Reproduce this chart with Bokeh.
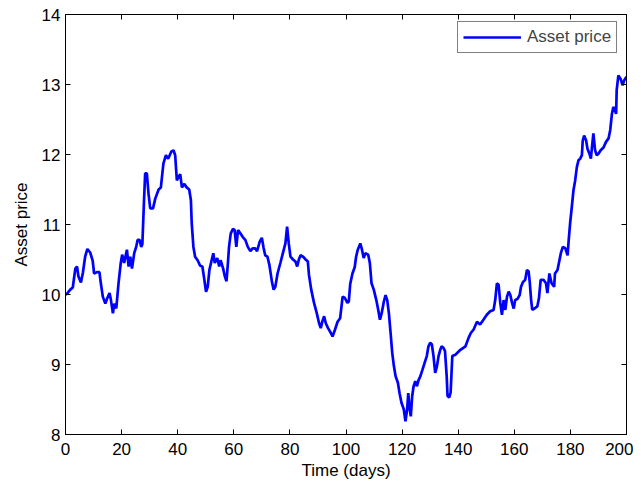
from bokeh.plotting import figure
from bokeh.models import LinearAxis, Range1d, Legend, LegendItem, FixedTicker
from bokeh.embed import file_html
from bokeh.resources import INLINE

days = [0, 0.5, 1.7, 2.6, 3.5, 4.1, 4.6, 5.5, 6.2, 7.0, 7.8, 8.8, 9.7, 10.2, 11.2, 12.1, 12.6, 13.3,
        14.2, 14.8, 15.7, 16.2, 16.9, 17.4, 18.1, 18.9, 19.7, 20.2, 20.9, 21.9, 22.5, 23.1, 23.7, 24.5,
        25.2, 25.7, 26.4, 27.0, 27.4, 28.0, 28.4, 29.0, 29.6, 30.2, 31.2, 32.0, 33.2, 34.0, 34.9, 35.8,
        36.6, 37.7, 38.5, 39.1, 39.7, 40.3, 40.9, 41.5, 42.4, 43.2, 44.1, 44.7, 45.0, 45.6, 46.2, 47.1,
        48.0, 48.8, 49.5, 50.1, 50.7, 51.3, 52.1, 52.7, 53.2, 54.1, 54.8, 55.3, 56.2, 56.8, 57.4, 57.9,
        58.3, 58.9, 59.7, 60.3, 60.9, 61.5, 62.4, 63.2, 64.1, 65.0, 65.9, 66.7, 67.6, 68.3, 69.2, 70.0,
        70.6, 71.2, 72.0, 72.7, 73.6, 74.2, 74.8, 75.6, 76.6, 77.5, 78.4, 79.0, 79.6, 80.2, 81.1, 82.0,
        82.6, 83.2, 83.8, 84.7, 85.6, 86.4, 86.8, 87.6, 88.6, 89.6, 90.4, 91.0, 91.6, 92.2, 92.8, 93.6,
        94.6, 95.2, 96.0, 97.0, 97.9, 98.8, 99.6, 100.5, 101.0, 101.5, 102.3, 103.1, 103.6, 104.2, 105.1,
        105.7, 106.3, 106.9, 107.9, 108.5, 109.1, 109.9, 110.8, 111.5, 112.1, 112.7, 113.5, 114.1, 114.7,
        115.3, 115.9, 116.5, 117.1, 117.7, 118.5, 119.1, 119.8, 120.6, 121.2, 121.8, 122.2, 122.6, 123.1,
        123.6, 124.1, 124.7, 125.3, 125.9, 126.5, 127.3, 128.0, 128.8, 129.4, 130.0, 130.6, 131.2, 131.8,
        132.4, 133.0, 133.6, 134.1, 134.7, 135.3, 135.9, 136.2, 136.8, 137.3, 137.9, 139.0, 140.8, 142.6,
        143.7, 144.5, 145.5, 146.7, 147.8, 149.0, 150.2, 151.4, 152.6, 153.2, 153.8, 154.4, 155.0, 155.6,
        156.2, 156.8, 157.4, 158.0, 158.6, 159.2, 159.8, 160.3, 161.2, 161.9, 162.4, 163.1, 163.9, 164.5,
        165.1, 165.5, 166.0, 166.4, 167.2, 168.2, 168.8, 169.4, 170.4, 171.3, 171.8, 172.5, 173.3, 174.2,
        174.5, 175.4, 176.1, 176.6, 177.3, 178.2, 179.0, 179.4, 179.9, 180.5, 181.1, 181.7, 182.3, 182.9,
        183.5, 184.1, 184.4, 184.9, 185.6, 186.1, 186.8, 187.3, 187.7, 188.2, 188.8, 189.4, 190.0, 190.8,
        191.8, 192.7, 193.6, 194.2, 194.8, 195.3, 195.9, 196.3, 196.5, 197.1, 197.9, 198.6, 199.2, 200.0]

price = [10.0, 10.01, 10.07, 10.1, 10.37, 10.4, 10.26, 10.17, 10.31, 10.54, 10.65, 10.6, 10.48, 10.3,
         10.32, 10.32, 10.16, 9.97, 9.87, 9.94, 10.02, 9.92, 9.73, 9.87, 9.80, 10.16, 10.45, 10.57, 10.45,
         10.64, 10.40, 10.54, 10.37, 10.59, 10.68, 10.78, 10.78, 10.68, 10.72, 11.35, 11.73, 11.73, 11.44,
         11.23, 11.23, 11.37, 11.50, 11.53, 11.87, 11.99, 11.94, 12.04, 12.06, 11.99, 11.63, 11.68, 11.72,
         11.53, 11.58, 11.53, 11.50, 11.35, 11.02, 10.68, 10.54, 10.49, 10.41, 10.40, 10.21, 10.04, 10.11,
         10.35, 10.49, 10.59, 10.45, 10.52, 10.40, 10.49, 10.37, 10.26, 10.19, 10.45, 10.68, 10.87, 10.94,
         10.92, 10.68, 10.92, 10.87, 10.82, 10.78, 10.68, 10.62, 10.66, 10.66, 10.62, 10.75, 10.81, 10.67,
         10.56, 10.54, 10.42, 10.18, 10.07, 10.11, 10.30, 10.45, 10.59, 10.73, 10.97, 10.73, 10.54, 10.50,
         10.47, 10.40, 10.50, 10.56, 10.54, 10.50, 10.47, 10.28, 10.07, 9.88, 9.73, 9.59, 9.52, 9.62, 9.69,
         9.59, 9.52, 9.45, 9.40, 9.49, 9.61, 9.66, 9.97, 9.95, 9.88, 9.90, 10.15, 10.30, 10.39, 10.54, 10.64,
         10.73, 10.64, 10.52, 10.59, 10.57, 10.45, 10.16, 10.07, 9.92, 9.78, 9.64, 9.73, 9.90, 9.99, 9.92,
         9.73, 9.45, 9.16, 8.97, 8.83, 8.74, 8.59, 8.45, 8.36, 8.19, 8.36, 8.59, 8.40, 8.26, 8.55, 8.69,
         8.76, 8.69, 8.78, 8.83, 8.93, 9.02, 9.12, 9.26, 9.31, 9.29, 9.12, 8.88, 8.97, 9.12, 9.21, 9.26,
         9.24, 9.19, 8.83, 8.55, 8.53, 8.60, 9.12, 9.14, 9.21, 9.26, 9.38, 9.45, 9.50, 9.61, 9.57, 9.64,
         9.71, 9.76, 9.78, 9.92, 10.16, 10.14, 9.88, 9.71, 9.92, 9.78, 9.97, 10.04, 9.99, 9.88, 9.80, 9.92,
         9.94, 9.99, 10.11, 10.18, 10.21, 10.35, 10.33, 10.18, 9.92, 9.78, 9.80, 9.83, 9.95, 10.21, 10.21,
         10.16, 10.02, 10.30, 10.16, 10.11, 10.30, 10.35, 10.49, 10.59, 10.68, 10.66, 10.56, 10.78, 11.02,
         11.25, 11.49, 11.63, 11.82, 11.92, 11.94, 11.99, 12.20, 12.27, 12.20, 12.08, 12.01, 11.94, 12.11,
         12.30, 12.06, 11.99, 12.01, 12.06, 12.10, 12.18, 12.23, 12.35, 12.58, 12.68, 12.63, 12.58, 12.92,
         13.13, 13.08, 12.99, 13.06, 13.11]

x_ticks = [0, 20, 40, 60, 80, 100, 120, 140, 160, 180, 200]
y_ticks = [8, 9, 10, 11, 12, 13, 14]

FONT = "Liberation Sans"
FS = "17px"

p = figure(width=633, height=482, output_backend="svg", toolbar_location=None,
           x_range=Range1d(0, 200), y_range=Range1d(8, 14),
           min_border_left=65, min_border_right=7, min_border_top=14, min_border_bottom=47,
           x_axis_label="Time (days)", y_axis_label="Asset price")
p.xgrid.visible = False
p.ygrid.visible = False
p.outline_line_color = "black"
p.outline_line_width = 1
p.background_fill_color = "white"
p.border_fill_color = "white"

line = p.line(days, price, line_color="#0000FF", line_width=2.7)

def style_axis(ax, labels=True):
    ax.axis_line_color = "black"
    ax.major_tick_in = 5
    ax.major_tick_out = 0
    ax.minor_tick_line_color = None
    ax.major_tick_line_color = "black"
    ax.major_label_text_font = FONT
    ax.major_label_text_font_size = FS
    ax.major_label_text_color = "black" if labels else None
    ax.axis_label_text_font = FONT
    ax.axis_label_text_font_size = FS
    ax.axis_label_text_font_style = "normal"
    ax.axis_label_text_color = "black"

p.xaxis.ticker = FixedTicker(ticks=x_ticks)
p.yaxis.ticker = FixedTicker(ticks=y_ticks)
style_axis(p.xaxis[0])
style_axis(p.yaxis[0])
p.xaxis.major_label_standoff = 8
p.xaxis.axis_label_standoff = 3
p.yaxis.major_label_standoff = 5
p.yaxis.axis_label_standoff = 8

ra = LinearAxis(ticker=FixedTicker(ticks=y_ticks))
style_axis(ra, labels=False)
ra.major_label_text_font_size = "0px"
ra.major_label_standoff = 0
ta = LinearAxis(ticker=FixedTicker(ticks=x_ticks))
style_axis(ta, labels=False)
ta.major_label_text_font_size = "0px"
ta.major_label_standoff = 0
p.add_layout(ra, "right")
p.add_layout(ta, "above")

legend = Legend(items=[LegendItem(label="Asset price", renderers=[line])],
                location=(392, 381), margin=0)
legend.label_text_font = FONT
legend.label_text_font_size = FS
legend.border_line_color = "black"
legend.border_line_width = 1
legend.background_fill_alpha = 1
legend.glyph_width = 58
legend.glyph_height = 20
legend.padding = 5
legend.label_standoff = 6
legend.label_height = 20
p.add_layout(legend, "center")

open("out.html", "w").write(file_html(p, INLINE))
